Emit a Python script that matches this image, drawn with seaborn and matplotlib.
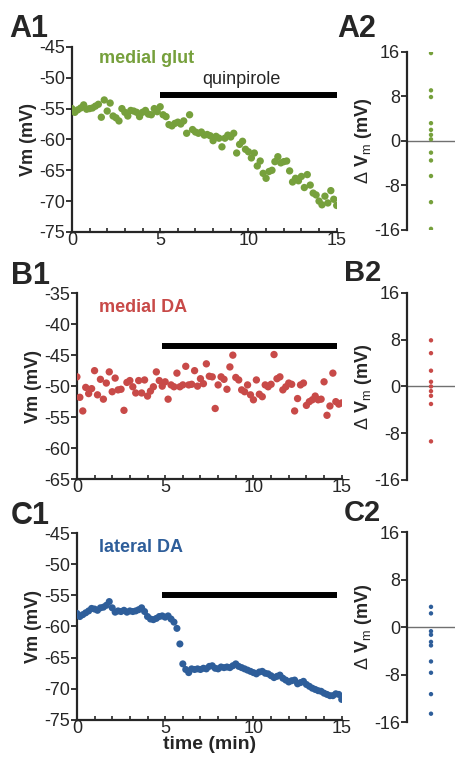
import numpy as np
import pandas as pd
import matplotlib
matplotlib.use("Agg")
import matplotlib.pyplot as plt
from matplotlib.ticker import MultipleLocator
import seaborn as sns

# time axis: one sample every 10 s
time_min = [i / 6 for i in range(91)]

# A1 medial glut Vm (mV)
glut_vm = [-55.0, -55.6, -55.2, -54.9, -54.4, -55.1, -55.0, -54.9, -54.6, -54.3,
           -56.4, -53.6, -55.4, -54.1, -56.2, -56.5, -57.0, -55.0, -55.6, -56.2,
           -55.3, -55.4, -55.6, -56.3, -55.6, -55.3, -55.9, -56.0, -55.0, -55.5,
           -54.7, -56.0, -56.3, -57.6, -57.8, -57.4, -57.2, -57.5, -57.0, -59.0,
           -56.0, -58.4, -58.8, -59.0, -58.8, -59.3, -59.2, -59.4, -60.2, -59.5,
           -59.8, -61.2, -59.8, -59.3, -59.6, -59.0, -62.2, -60.8, -60.3, -61.6,
           -62.0, -63.0, -62.2, -64.3, -63.5, -65.5, -66.3, -65.2, -65.0, -63.6,
           -62.8, -63.8, -63.6, -63.5, -65.1, -66.9, -66.3, -66.7, -66.0, -67.8,
           -65.7, -67.4, -68.7, -69.0, -70.0, -70.6, -69.2, -70.3, -68.3, -69.7,
           -70.7]

# B1 medial DA Vm (mV)
mda_vm = [-48.5, -51.8, -54.0, -50.2, -51.2, -50.4, -47.5, -51.4, -48.9, -52.1,
          -49.5, -47.7, -50.9, -48.7, -50.6, -50.5, -53.9, -49.4, -49.1, -50.1,
          -51.1, -49.1, -51.1, -49.0, -51.6, -50.8, -50.1, -47.7, -49.1, -50.0,
          -49.3, -52.1, -49.8, -50.1, -47.9, -50.1, -49.8, -46.8, -49.8, -49.7,
          -47.5, -50.0, -48.8, -49.6, -46.4, -48.4, -48.5, -53.6, -49.8, -48.5,
          -48.9, -50.5, -46.9, -45.0, -48.6, -49.0, -50.6, -50.9, -49.8, -51.4,
          -52.2, -49.0, -51.3, -51.7, -49.8, -50.1, -49.7, -44.9, -48.8, -48.5,
          -50.6, -50.1, -49.5, -49.7, -54.0, -52.0, -49.8, -49.5, -53.1, -52.5,
          -52.2, -51.6, -52.2, -52.1, -49.3, -54.7, -53.2, -47.9, -52.5, -52.9,
          -52.7]

# C1 lateral DA Vm (mV)
lda_vm = [-57.9, -58.4, -58.1, -57.8, -57.5, -57.1, -57.2, -57.4, -57.0, -56.9,
          -56.6, -56.0, -57.0, -57.7, -57.5, -57.6, -57.4, -57.7, -57.5, -57.6,
          -57.5, -57.3, -57.0, -57.6, -58.4, -58.8, -58.9, -58.7, -58.4, -58.3,
          -58.5, -58.3, -58.8, -59.3, -60.3, -62.8, -66.0, -66.9, -67.4, -66.8,
          -66.9, -66.8, -66.9, -66.7, -66.8, -66.4, -66.3, -66.7, -66.8, -66.5,
          -66.6, -66.5, -66.6, -66.3, -66.0, -66.4, -66.6, -66.8, -67.0, -67.2,
          -67.4, -67.6, -67.3, -67.2, -67.5, -67.6, -67.9, -68.2, -68.0, -67.8,
          -68.3, -68.6, -68.9, -68.7, -68.6, -69.2, -69.0, -68.8, -69.3, -69.6,
          -69.9, -70.1, -70.3, -70.4, -70.7, -70.9, -71.1, -71.1, -70.8, -70.9,
          -71.7]

# delta Vm per cell (mV)
glut_delta = [15.8, 9.1, 7.9, 3.2, 2.0, 1.1, 0.3, -2.1, -3.5, -6.3, -11.0, -15.8]
mda_delta = [7.9, 5.7, 2.7, 0.8, 0.0, -0.8, -1.6, -3.0, -9.4]
lda_delta = [3.4, 2.3, -0.7, -1.3, -2.5, -3.1, -5.8, -7.7, -11.3, -14.6]

green = "#76a03c"
red = "#c84a48"
blue = "#2e5e9a"

sns.set_style("ticks")
plt.rcParams["font.family"] = ["Liberation Sans", "DejaVu Sans"]
plt.rcParams["axes.unicode_minus"] = False
plt.rcParams["mathtext.fontset"] = "custom"
plt.rcParams["mathtext.rm"] = "Liberation Sans"
plt.rcParams["mathtext.bf"] = "Liberation Sans:bold"

TICK = 13
LAB = 13

fig = plt.figure(figsize=(4.55, 7.63), dpi=100)


def trace_panel(rect, vm, color, ylim, label, bar, size):
    ax = fig.add_axes(rect)
    df = pd.DataFrame({"t": time_min, "vm": vm})
    sns.scatterplot(data=df, x="t", y="vm", color=color, s=size,
                    edgecolor="none", ax=ax, legend=False, zorder=3)
    ax.set_xlim(0, 15)
    ax.set_ylim(*ylim)
    ax.yaxis.set_major_locator(MultipleLocator(5))
    ax.xaxis.set_major_locator(MultipleLocator(5))
    ax.xaxis.set_minor_locator(MultipleLocator(1))
    sns.despine(ax=ax)
    for s in ["left", "bottom"]:
        ax.spines[s].set_linewidth(1.6)
    ax.tick_params(axis="y", direction="out", length=4, width=1.3,
                   labelsize=TICK, pad=1)
    ax.tick_params(axis="x", which="both", direction="in", length=3,
                   width=1.2, labelsize=TICK, pad=0)
    ax.set_xlabel("")
    ax.set_ylabel("Vm (mV)", fontsize=LAB, fontweight="bold", labelpad=1)
    ax.text(label[1], label[2], label[0], color=color, fontsize=13,
            fontweight="bold", va="center", ha="left")
    ax.plot([bar[0], bar[1]], [bar[2], bar[2]], color="black", lw=4.3,
            solid_capstyle="butt")
    return ax


def delta_panel(rect, vals, color):
    ax = fig.add_axes(rect)
    df = pd.DataFrame({"x": [0.0] * len(vals), "d": vals})
    ax.axhline(0, color="#707070", lw=1.0, zorder=1)
    sns.scatterplot(data=df, x="x", y="d", color=color, s=10,
                    edgecolor="none", ax=ax, legend=False, zorder=3)
    ax.set_xlim(-1, 1)
    ax.set_ylim(-16, 16)
    ax.set_yticks([-16, -8, 0, 8, 16])
    sns.despine(ax=ax, bottom=True)
    ax.spines["left"].set_linewidth(1.6)
    ax.set_xticks([])
    ax.set_xlabel("")
    ax.tick_params(axis="y", direction="out", length=4, width=1.3,
                   labelsize=TICK, pad=1)
    ax.set_ylabel(r"$\Delta$ V$_\mathrm{m}$ (mV)", fontsize=LAB,
                  fontweight="bold", labelpad=0)
    return ax


axA1 = trace_panel([0.158, 0.696, 0.582, 0.2425], glut_vm, green, (-75, -45),
                   ("medial glut", 1.56, -46.9), (5.0, 15.0, -52.8), 28)
axA1.text(9.6, -51.6, "quinpirole", fontsize=13, ha="center", va="bottom")
axA2 = delta_panel([0.8945, 0.6986, 0.1055, 0.2333], glut_delta, green)

axB1 = trace_panel([0.169, 0.372, 0.582, 0.2438], mda_vm, red, (-65, -35),
                   ("medial DA", 1.28, -37.3), (4.8, 14.75, -43.5), 28)
axB2 = delta_panel([0.8945, 0.371, 0.1055, 0.245], mda_delta, red)

axC1 = trace_panel([0.169, 0.0564, 0.582, 0.245], lda_vm, blue, (-75, -45),
                   ("lateral DA", 1.28, -47.4), (4.8, 14.75, -55.0), 26)
axC1.set_xlabel("time (min)", fontsize=14, fontweight="bold", labelpad=-1)
axC2 = delta_panel([0.8945, 0.0537, 0.1055, 0.249], lda_delta, blue)

# panel letters
for txt, x, y, va in [("A1", 0.020, 0.982, "top"), ("A2", 0.742, 0.982, "top"),
                      ("B1", 0.024, 0.658, "top"), ("B2", 0.756, 0.632, "baseline"),
                      ("C1", 0.024, 0.343, "top"), ("C2", 0.756, 0.317, "baseline")]:
    fig.text(x, y, txt, fontsize=21 if txt[1] == "2" and txt[0] != "A" else 22,
             fontweight="bold", va=va, ha="left")

fig.savefig("out.png", dpi=100)
